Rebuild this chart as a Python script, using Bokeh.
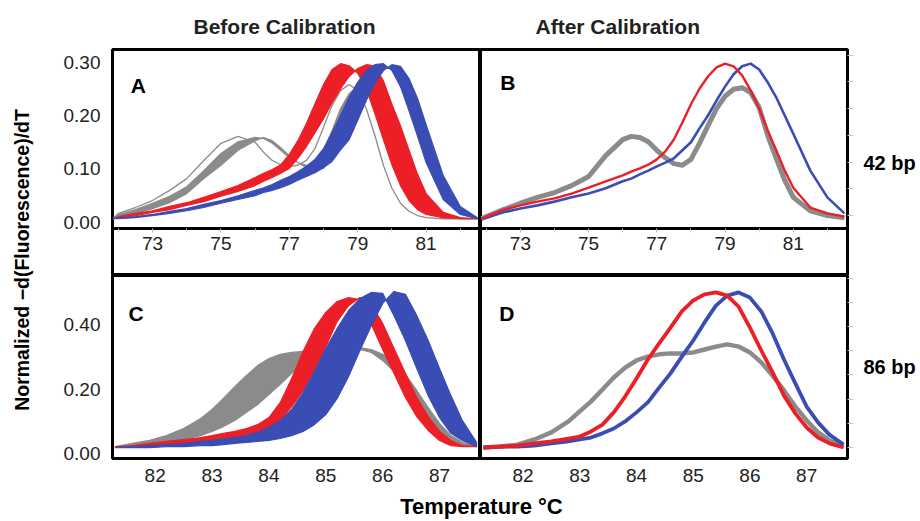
import math
from bokeh.plotting import figure
from bokeh.models import Range1d, FixedTicker, LinearAxis, Label, Title, NumeralTickFormatter
from bokeh.layouts import row, column
from bokeh.embed import file_html
from bokeh.resources import INLINE

# ---------------- data ----------------
# 42 bp amplicon, temperatures (deg C)
T_TOP = [71.85, 72.0, 72.5, 73.0, 73.5, 74.0, 74.5, 75.0, 75.5, 76.0, 76.25, 76.5, 76.75,
         77.0, 77.25, 77.5, 77.75, 78.0, 78.25, 78.5, 78.75, 79.0, 79.25, 79.5, 79.75,
         80.0, 80.25, 80.5, 80.75, 81.0, 81.5, 82.0, 82.5]

# Panel A (before calibration): earliest and latest curve of each bundle
A_GRAY_EARLY = [0.007, 0.015, 0.024, 0.036, 0.049, 0.067, 0.097, 0.129, 0.151, 0.159, 0.157, 0.148, 0.135,
                0.121, 0.112, 0.107, 0.110, 0.135, 0.172, 0.213, 0.241, 0.254, 0.250, 0.228, 0.191,
                0.144, 0.097, 0.060, 0.034, 0.021, 0.011, 0.007, 0.007]
A_GRAY_LATE = [0.007, 0.009, 0.017, 0.026, 0.037, 0.054, 0.082, 0.107, 0.135, 0.153, 0.159, 0.153, 0.140,
               0.125, 0.112, 0.103, 0.097, 0.101, 0.121, 0.157, 0.191, 0.228, 0.250, 0.252, 0.232,
               0.191, 0.135, 0.079, 0.041, 0.022, 0.011, 0.007, 0.007]
A_GRAY_ODD = [0.007, 0.017, 0.028, 0.041, 0.060, 0.082, 0.116, 0.148, 0.161, 0.150, 0.131, 0.116, 0.108,
              0.105, 0.107, 0.116, 0.138, 0.178, 0.219, 0.247, 0.258, 0.247, 0.213, 0.163, 0.107,
              0.064, 0.036, 0.021, 0.013, 0.009, 0.007, 0.007, 0.007]
A_RED_EARLY = [0.007, 0.011, 0.017, 0.022, 0.030, 0.037, 0.047, 0.058, 0.069, 0.084, 0.092, 0.099, 0.108,
               0.127, 0.153, 0.185, 0.222, 0.258, 0.286, 0.297, 0.293, 0.279, 0.250, 0.204, 0.155,
               0.108, 0.069, 0.041, 0.024, 0.015, 0.009, 0.007, 0.007]
A_RED_LATE = [0.007, 0.009, 0.013, 0.019, 0.024, 0.032, 0.039, 0.049, 0.058, 0.069, 0.077, 0.084, 0.092,
              0.101, 0.120, 0.142, 0.168, 0.194, 0.224, 0.250, 0.273, 0.288, 0.295, 0.293, 0.265,
              0.221, 0.181, 0.135, 0.090, 0.054, 0.019, 0.009, 0.007]
A_BLUE_EARLY = [0.007, 0.009, 0.011, 0.015, 0.021, 0.026, 0.034, 0.041, 0.050, 0.060, 0.065, 0.071, 0.079,
                0.086, 0.095, 0.105, 0.118, 0.138, 0.168, 0.200, 0.234, 0.262, 0.284, 0.295, 0.297,
                0.284, 0.254, 0.209, 0.161, 0.112, 0.043, 0.015, 0.007]
A_BLUE_LATE = [0.007, 0.007, 0.009, 0.013, 0.017, 0.022, 0.028, 0.036, 0.043, 0.050, 0.056, 0.060, 0.065,
               0.071, 0.079, 0.086, 0.093, 0.103, 0.114, 0.136, 0.155, 0.191, 0.228, 0.260, 0.284,
               0.295, 0.292, 0.269, 0.232, 0.183, 0.088, 0.030, 0.009]

# Panel B (after calibration)
B_GRAY = [0.007, 0.011, 0.024, 0.036, 0.047, 0.056, 0.069, 0.086, 0.125, 0.155, 0.161, 0.159, 0.151,
          0.135, 0.121, 0.110, 0.107, 0.118, 0.148, 0.181, 0.213, 0.236, 0.249, 0.252, 0.243,
          0.215, 0.163, 0.120, 0.079, 0.047, 0.022, 0.013, 0.009]
B_RED = [0.007, 0.011, 0.024, 0.032, 0.039, 0.045, 0.054, 0.065, 0.077, 0.088, 0.095, 0.101, 0.108,
         0.118, 0.133, 0.155, 0.187, 0.221, 0.250, 0.273, 0.290, 0.297, 0.292, 0.275, 0.247,
         0.213, 0.172, 0.135, 0.097, 0.065, 0.028, 0.017, 0.011]
B_BLUE = [0.007, 0.009, 0.019, 0.026, 0.032, 0.039, 0.047, 0.054, 0.064, 0.077, 0.082, 0.090, 0.097,
          0.105, 0.112, 0.120, 0.135, 0.150, 0.176, 0.200, 0.228, 0.254, 0.277, 0.292, 0.297,
          0.286, 0.262, 0.234, 0.200, 0.166, 0.097, 0.047, 0.017]

# 86 bp amplicon
T_BOT = [81.3, 81.6, 81.9, 82.2, 82.5, 82.8, 83.0, 83.2, 83.4, 83.6, 83.8, 84.0, 84.2, 84.4, 84.6,
         84.8, 85.0, 85.2, 85.4, 85.6, 85.8, 86.0, 86.2, 86.4, 86.6, 86.8, 87.0, 87.2, 87.4, 87.65]

C_GRAY_EARLY = [0.023, 0.033, 0.042, 0.057, 0.079, 0.110, 0.138, 0.172, 0.209, 0.243, 0.274, 0.296, 0.309,
                0.315, 0.318, 0.318, 0.321, 0.324, 0.327, 0.324, 0.315, 0.290, 0.256, 0.209, 0.157,
                0.107, 0.067, 0.042, 0.029, 0.023]
C_GRAY_LATE = [0.023, 0.026, 0.029, 0.036, 0.045, 0.057, 0.070, 0.085, 0.104, 0.129, 0.153, 0.184, 0.216,
               0.250, 0.281, 0.296, 0.305, 0.315, 0.324, 0.330, 0.324, 0.309, 0.284, 0.247, 0.197,
               0.144, 0.095, 0.057, 0.036, 0.023]
C_RED_EARLY = [0.023, 0.026, 0.033, 0.039, 0.045, 0.051, 0.057, 0.064, 0.070, 0.079, 0.091, 0.113, 0.160,
               0.234, 0.318, 0.389, 0.439, 0.473, 0.485, 0.479, 0.402, 0.324, 0.250, 0.175, 0.116,
               0.073, 0.042, 0.026, 0.023, 0.023]
C_RED_LATE = [0.023, 0.023, 0.026, 0.029, 0.033, 0.039, 0.042, 0.045, 0.051, 0.057, 0.067, 0.079, 0.104,
              0.147, 0.197, 0.259, 0.333, 0.411, 0.460, 0.485, 0.464, 0.405, 0.327, 0.250, 0.175,
              0.116, 0.070, 0.042, 0.026, 0.023]
C_BLUE_EARLY = [0.020, 0.023, 0.026, 0.029, 0.033, 0.039, 0.042, 0.048, 0.051, 0.057, 0.067, 0.082, 0.104,
                0.138, 0.191, 0.256, 0.327, 0.389, 0.445, 0.482, 0.501, 0.498, 0.429, 0.352, 0.265,
                0.181, 0.113, 0.064, 0.042, 0.023]
C_BLUE_LATE = [0.020, 0.020, 0.020, 0.023, 0.023, 0.026, 0.026, 0.029, 0.033, 0.036, 0.039, 0.042, 0.048,
               0.057, 0.070, 0.091, 0.122, 0.172, 0.240, 0.321, 0.398, 0.467, 0.504, 0.495, 0.429,
               0.352, 0.265, 0.181, 0.104, 0.036]

D_GRAY = [0.020, 0.023, 0.029, 0.045, 0.067, 0.101, 0.132, 0.163, 0.200, 0.237, 0.268, 0.290, 0.302,
          0.309, 0.312, 0.312, 0.315, 0.324, 0.333, 0.340, 0.333, 0.315, 0.284, 0.243, 0.197,
          0.147, 0.104, 0.067, 0.042, 0.023]
D_RED = [0.020, 0.023, 0.026, 0.033, 0.039, 0.048, 0.054, 0.070, 0.091, 0.129, 0.178, 0.234, 0.293,
         0.343, 0.392, 0.442, 0.476, 0.495, 0.501, 0.491, 0.457, 0.392, 0.321, 0.253, 0.181,
         0.126, 0.082, 0.051, 0.033, 0.020]
D_BLUE = [0.020, 0.023, 0.023, 0.026, 0.033, 0.039, 0.045, 0.051, 0.064, 0.079, 0.101, 0.129, 0.160,
          0.206, 0.250, 0.302, 0.352, 0.408, 0.460, 0.491, 0.501, 0.485, 0.442, 0.374, 0.293,
          0.219, 0.147, 0.098, 0.060, 0.029]

# ticks and labels
X_TICKS_TOP = [73, 75, 77, 79, 81]
X_MINOR_TOP = [72, 74, 76, 78, 80, 82]
Y_TICKS_TOP = [0.0, 0.1, 0.2, 0.3]
X_TICKS_BOT = [82, 83, 84, 85, 86, 87]
Y_TICKS_BOT = [0.0, 0.2, 0.4]
B_RIGHT_TICKS = [0.013, 0.063, 0.113, 0.163, 0.213, 0.263, 0.313]
D_RIGHT_TICKS = [0.020, 0.095, 0.170, 0.245, 0.320, 0.395, 0.470, 0.545]

COL_TITLES = ["Before Calibration", "After Calibration"]
ROW_LABELS = ["42 bp", "86 bp"]
PANEL_LETTERS = ["A", "B", "C", "D"]
Y_TITLE = "Normalized \u2212d(Fluorescence)/dT"
X_TITLE = "Temperature \u00b0C"

# ---------------- style ----------------
FONT = "Liberation Sans"
RED, BLUE, GRAY = "#EC1F27", "#3A4DB4", "#8B8B8B"
TXT = "#222222"

XR_TOP = (71.83, 82.59)
YR_TOP = (-0.0991, 0.3234)
DIVIDER_Y = -0.0112
XR_BOT = (81.25, 87.72)
YR_BOT = (-0.014, 0.5535)


def make_fig(w, h, xr, yr, bl, br, bt, bb, title=None, outline=True):
    p = figure(width=w, height=h, x_range=Range1d(*xr), y_range=Range1d(*yr),
               output_backend="svg", toolbar_location=None, tools="",
               x_axis_location=None, y_axis_location=None, title=title,
               min_border_left=bl, min_border_right=br, min_border_top=bt, min_border_bottom=bb)
    for g in p.grid:
        g.visible = False
    if outline:
        p.outline_line_color = "black"
        p.outline_line_width = 3
        p.outline_line_alpha = 1.0
    else:
        p.outline_line_color = None
    p.background_fill_color = "white"
    p.border_fill_color = "white"
    return p


def col_title(text, offset):
    return Title(text=text, align="left", offset=offset, text_font=FONT,
                 text_font_size="21px", text_font_style="bold", text_color=TXT, standoff=23)


def add_x_axis(p, ticks, minor, fixed=None, line=True, tick_out=4, standoff=4):
    ax = LinearAxis(ticker=FixedTicker(ticks=ticks, minor_ticks=minor))
    if fixed is not None:
        ax.fixed_location = fixed
    if line:
        ax.axis_line_color = "black"
        ax.axis_line_width = 3
    else:
        ax.axis_line_color = None
    ax.major_tick_out = tick_out
    ax.major_tick_in = 0
    ax.major_tick_line_color = "#bdbdbd"
    ax.minor_tick_out = tick_out
    ax.minor_tick_in = 0
    ax.minor_tick_line_color = "#cfcfcf"
    ax.major_label_text_font = FONT
    ax.major_label_text_font_size = "19px"
    ax.major_label_text_color = TXT
    ax.major_label_standoff = standoff
    p.add_layout(ax, "below")


def add_left_axis(p, ticks):
    ax = LinearAxis(ticker=FixedTicker(ticks=ticks), formatter=NumeralTickFormatter(format="0.00"))
    ax.axis_line_color = None
    ax.major_tick_out = 0
    ax.major_tick_in = 0
    ax.minor_tick_out = 0
    ax.major_label_text_font = FONT
    ax.major_label_text_font_size = "19px"
    ax.major_label_text_color = TXT
    ax.major_label_standoff = 12
    p.add_layout(ax, "left")


def add_right_axis(p, ticks, label):
    ax = LinearAxis(ticker=FixedTicker(ticks=[], minor_ticks=ticks))
    ax.axis_line_color = None
    ax.major_tick_out = 0
    ax.major_tick_in = 0
    ax.minor_tick_out = 6
    ax.minor_tick_in = 0
    ax.minor_tick_line_color = "#c4c4c4"
    ax.major_label_standoff = 0
    ax.axis_label = label
    ax.axis_label_orientation = "horizontal"
    ax.axis_label_standoff = 10
    ax.axis_label_text_font = FONT
    ax.axis_label_text_font_size = "20px"
    ax.axis_label_text_font_style = "bold"
    ax.axis_label_text_color = "black"
    p.add_layout(ax, "right")


def letter(p, text, x, y):
    p.add_layout(Label(x=x, y=y, text=text, text_font=FONT, text_font_size="21px",
                       text_font_style="bold", text_color="black", text_baseline="alphabetic"))


def bundle(p, xs, early, late, color, lw=1.2):
    xs = list(xs)
    p.patch(xs + xs[::-1], list(early) + list(late)[::-1], fill_color=color,
            line_color=color, line_width=lw, line_join="round")


# ---------------- panels ----------------
pA = make_fig(444, 275, XR_TOP, YR_TOP, 76, 0, 49, 0, title=col_title(COL_TITLES[0], 81))
pB = make_fig(438, 275, XR_TOP, YR_TOP, 0, 70, 49, 0, title=col_title(COL_TITLES[1], 55))
pC = make_fig(444, 216, XR_BOT, YR_BOT, 76, 0, 0, 33)
pD = make_fig(438, 216, XR_BOT, YR_BOT, 0, 70, 0, 33)

for p in (pA, pB):
    add_x_axis(p, X_TICKS_TOP, X_MINOR_TOP, fixed=DIVIDER_Y, line=True, tick_out=4, standoff=5)
for p in (pC, pD):
    add_x_axis(p, X_TICKS_BOT, [], fixed=None, line=False, tick_out=0, standoff=10)
add_left_axis(pA, Y_TICKS_TOP)
add_left_axis(pC, Y_TICKS_BOT)
add_right_axis(pB, B_RIGHT_TICKS, ROW_LABELS[0])
add_right_axis(pD, D_RIGHT_TICKS, ROW_LABELS[1])

# Panel A bundles
bundle(pA, T_TOP, A_GRAY_EARLY, A_GRAY_LATE, GRAY)
pA.line(T_TOP, A_GRAY_ODD, line_color=GRAY, line_width=1.3)
bundle(pA, T_TOP, A_RED_EARLY, A_RED_LATE, RED)
bundle(pA, T_TOP, A_BLUE_EARLY, A_BLUE_LATE, BLUE)

# Panel B curves
pB.line(T_TOP, B_GRAY, line_color=GRAY, line_width=5, line_join="round")
pB.line(T_TOP, B_BLUE, line_color=BLUE, line_width=2.6, line_join="round")
pB.line(T_TOP, B_RED, line_color=RED, line_width=2.4, line_join="round")

# Panel C bundles
bundle(pC, T_BOT, C_GRAY_EARLY, C_GRAY_LATE, GRAY)
bundle(pC, T_BOT, C_RED_EARLY, C_RED_LATE, RED)
bundle(pC, T_BOT, C_BLUE_EARLY, C_BLUE_LATE, BLUE)

# Panel D curves
pD.line(T_BOT, D_GRAY, line_color=GRAY, line_width=4.5, line_join="round")
pD.line(T_BOT, D_BLUE, line_color=BLUE, line_width=3.8, line_join="round")
pD.line(T_BOT, D_RED, line_color=RED, line_width=3.8, line_join="round")

letter(pA, PANEL_LETTERS[0], 72.36, 0.256)
letter(pB, PANEL_LETTERS[1], 72.41, 0.262)
letter(pC, PANEL_LETTERS[2], 81.53, 0.436)
letter(pD, PANEL_LETTERS[3], 81.58, 0.436)

# shared axis titles
pY = make_fig(36, 520, (0, 1), (0, 1), 0, 0, 0, 0, outline=False)
pY.add_layout(Label(x=0.611, y=0.501, text=Y_TITLE, angle=math.pi / 2, text_align="center",
                    text_baseline="middle", text_font=FONT, text_font_size="19.5px",
                    text_font_style="bold", text_color="black"))
pX = make_fig(882, 29, (0, 1), (0, 1), 0, 0, 0, 0, outline=False)
pX.add_layout(Label(x=0.5045, y=0.5, text=X_TITLE, text_align="center", text_baseline="middle",
                    text_font=FONT, text_font_size="22px", text_font_style="bold",
                    text_color="black"))

layout = row(pY, column(row(pA, pB), row(pC, pD), pX))

open("out.html", "w").write(file_html(layout, INLINE))
